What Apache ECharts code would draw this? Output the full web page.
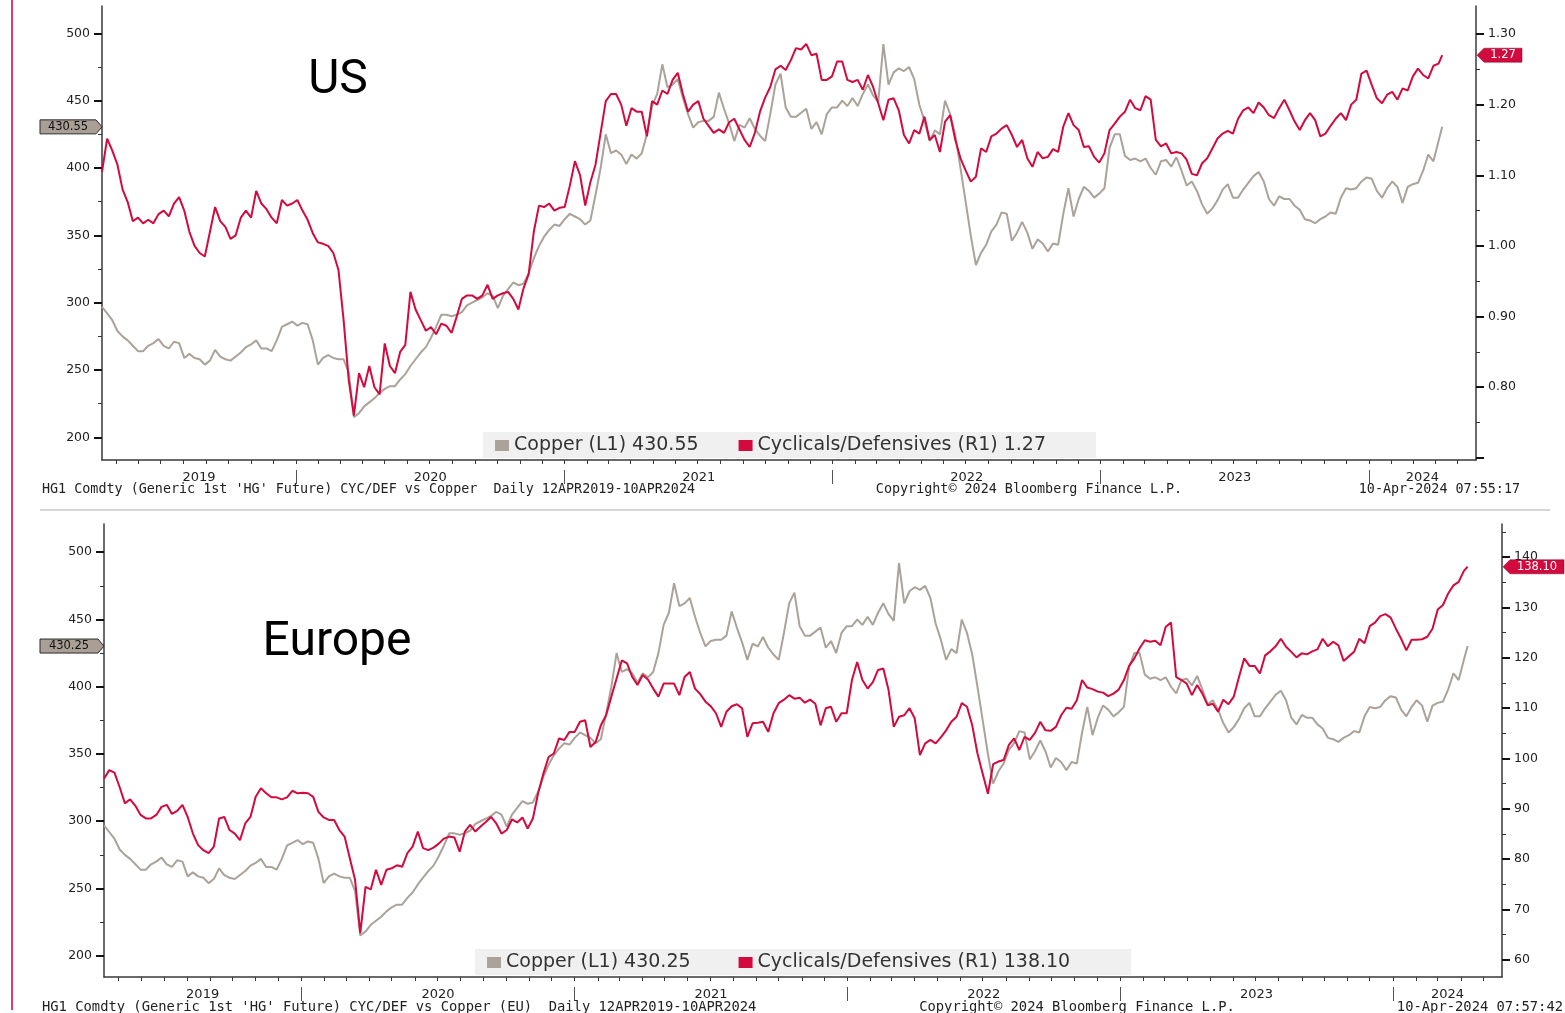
<!DOCTYPE html>
<html><head><meta charset="utf-8">
<script src="https://cdn.jsdelivr.net/npm/echarts@6.0.0/dist/echarts.min.js"></script>
<style>html,body{margin:0;padding:0;background:#fff}#main{width:1565px;height:1013px}</style>
</head><body><div id="main"></div>
<script>
// ---------- data (weekly Fridays from 12-Apr-2019, plus last print 10-Apr-2024) ----------
const START_DATE = Date.UTC(2019, 3, 12);
const WEEK_MS = 7 * 86400000;
const LAST_DATE = Date.UTC(2024, 3, 10);
const X_MIN = Date.UTC(2019, 3, 12);
const X_MAX = Date.UTC(2024, 4, 26);
const yearBoundaries = [Date.UTC(2020,0,1), Date.UTC(2021,0,1), Date.UTC(2022,0,1), Date.UTC(2023,0,1), Date.UTC(2024,0,1)];

const copperWeekly = [
  297,292,287,279,275,272,268,264,264,268,
  270,273,268,266,271,270,259,262,259,258,
  254,257,265,260,258,257,260,263,267,269,
  272,266,266,264,272,282,284,286,283,285,
  284,272,254,259,261,259,258,258,248,215,
  218,223,226,229,233,236,238,238,243,247,
  253,258,263,267,274,282,291,291,290,291,
  293,298,300,302,304,307,305,296,305,310,
  315,313,314,322,333,342,349,354,358,357,
  362,366,364,362,358,361,380,400,425,411,
  413,410,403,410,407,411,425,446,455,477,
  460,462,466,452,440,430,434,435,435,438,
  456,444,433,420,432,430,437,429,424,420,
  440,462,470,445,438,438,441,444,429,434,
  425,440,445,445,450,446,452,446,455,462,
  454,449,492,462,471,474,472,475,466,447,
  435,420,428,425,450,440,424,400,375,350,
  328,337,343,353,358,367,366,346,352,360,
  352,340,347,344,338,344,343,366,385,364,
  377,386,383,378,381,385,415,425,425,409,
  406,407,405,407,400,395,405,406,401,408,
  398,387,390,383,373,366,370,376,384,388,
  378,378,384,389,394,397,390,377,372,379,
  377,377,372,369,362,361,359,362,364,367,
  366,378,385,384,385,390,393,392,383,378,
  385,390,386,374,386,388,389,398,410,405,
  420
];
const copperLastUS = 430.55;
const copperLastEU = 430.25;

const ratioUSWeekly = [
  1.105,1.152,1.135,1.115,1.08,1.062,1.035,1.04,1.032,1.037,
  1.032,1.045,1.05,1.042,1.06,1.069,1.05,1.02,1.0,0.99,
  0.985,1.02,1.055,1.035,1.027,1.01,1.015,1.04,1.05,1.04,
  1.078,1.06,1.052,1.04,1.032,1.065,1.057,1.06,1.065,1.05,
  1.037,1.018,1.005,1.003,1.0,0.99,0.966,0.895,0.81,0.76,
  0.82,0.80,0.83,0.80,0.79,0.862,0.83,0.82,0.85,0.86,
  0.935,0.91,0.895,0.88,0.885,0.875,0.89,0.887,0.877,0.9,
  0.925,0.93,0.93,0.925,0.93,0.945,0.925,0.93,0.933,0.935,
  0.925,0.91,0.94,0.96,1.02,1.057,1.055,1.06,1.05,1.054,
  1.055,1.085,1.12,1.1,1.057,1.09,1.115,1.16,1.205,1.215,
  1.215,1.2,1.17,1.195,1.19,1.19,1.155,1.205,1.2,1.22,
  1.215,1.235,1.245,1.215,1.19,1.2,1.205,1.18,1.17,1.16,
  1.165,1.16,1.175,1.18,1.165,1.15,1.14,1.16,1.19,1.21,
  1.225,1.25,1.255,1.249,1.263,1.28,1.278,1.286,1.27,1.272,
  1.235,1.235,1.24,1.261,1.261,1.235,1.232,1.235,1.221,1.242,
  1.225,1.202,1.178,1.207,1.209,1.192,1.157,1.145,1.164,1.159,
  1.183,1.15,1.157,1.133,1.176,1.185,1.15,1.124,1.107,1.091,
  1.098,1.138,1.133,1.155,1.159,1.166,1.171,1.157,1.14,1.15,
  1.124,1.112,1.133,1.124,1.126,1.137,1.133,1.169,1.188,1.171,
  1.164,1.14,1.141,1.126,1.118,1.131,1.164,1.173,1.183,1.19,
  1.207,1.195,1.192,1.212,1.207,1.15,1.141,1.145,1.131,1.133,
  1.131,1.122,1.102,1.1,1.117,1.124,1.138,1.152,1.159,1.163,
  1.159,1.18,1.192,1.196,1.188,1.203,1.196,1.185,1.181,1.195,
  1.207,1.192,1.176,1.164,1.178,1.188,1.178,1.155,1.159,1.17,
  1.18,1.188,1.178,1.2,1.207,1.244,1.248,1.228,1.209,1.202,
  1.214,1.218,1.207,1.223,1.22,1.24,1.251,1.242,1.237,1.255,
  1.258
];
const ratioUSLast = 1.27;

const ratioEUWeekly = [
  96.0,97.7,97.2,94.3,91.1,91.9,90.6,88.8,88.1,88.1,
  88.8,90.4,90.8,89.0,89.6,90.8,88.4,85.1,82.8,81.8,
  81.2,82.5,88.1,88.4,85.8,85.1,83.8,87.1,88.4,92.4,
  94.1,93.1,92.3,92.3,91.9,92.3,93.6,93.1,93.2,93.1,
  92.4,89.4,88.3,87.8,87.8,85.8,84.5,80.2,75.9,65.3,
  74.5,74.0,77.9,74.9,77.9,78.2,78.8,78.5,81.2,82.5,
  85.5,82.2,81.8,82.3,83.1,84.1,84.5,84.3,81.5,85.5,
  86.8,85.5,86.5,87.4,88.4,87.1,85.1,85.8,87.9,87.3,
  88.3,86.1,88.1,93.1,97.0,100.3,101.0,104.0,103.7,105.3,
  105.3,107.3,107.6,102.3,103.3,106.6,108.6,112.3,115.9,119.5,
  118.9,116.2,114.6,116.6,115.7,113.9,112.3,114.9,114.9,114.9,
  112.6,116.2,117.2,113.9,112.8,111.3,110.4,109.0,106.3,109.3,
  110.4,110.8,110.0,104.3,107.0,107.1,107.3,105.3,109.0,111.0,
  111.7,112.6,111.9,112.1,111.1,111.7,110.9,106.6,110.0,110.3,
  107.3,109.0,109.0,115.6,119.2,115.6,113.9,115.2,117.6,117.9,
  113.6,106.3,108.3,108.6,110.0,108.0,100.7,103.0,103.7,103.0,
  104.2,105.6,107.3,108.3,111.0,110.3,106.6,101.0,97.0,93.0,
  98.9,99.4,99.7,102.7,104.0,101.7,104.3,103.7,105.1,107.3,
  105.6,105.5,106.3,108.6,110.1,109.9,111.6,115.6,114.1,113.8,
  113.3,113.1,112.4,112.9,113.7,115.6,118.4,119.9,121.9,123.5,
  123.2,123.4,122.5,126.2,127.0,116.2,115.6,114.9,112.6,114.6,
  112.9,110.6,110.9,109.3,111.7,110.8,112.3,116.2,119.9,118.4,
  118.4,116.9,120.5,121.3,122.3,123.8,122.2,121.2,120.1,120.9,
  120.7,121.3,121.7,123.8,122.3,123.2,122.5,119.4,120.3,121.2,
  123.8,122.9,126.3,127.0,128.3,128.7,128.0,125.8,123.8,121.5,
  123.6,123.6,123.7,124.2,125.8,129.6,130.5,132.8,134.4,135.1,
  137.3
];
const ratioEULast = 138.10;

// tick / label values
const copperLabels = [200, 250, 300, 350, 400, 450, 500];
const copperMinor = [225, 275, 325, 375, 425, 475];
const usRatioLabels = [0.8, 0.9, 1.0, 1.1, 1.2, 1.3];
const usRatioTicks = [0.7, 0.8, 0.9, 1.0, 1.1, 1.2, 1.3];
const usRatioMinor = [0.75, 0.85, 0.95, 1.05, 1.15, 1.25];
const euRatioLabels = [60, 70, 80, 90, 100, 110, 120, 130, 140];
const euRatioMinor = [65, 75, 85, 95, 105, 115, 125, 135, 145];

const GRAY = '#aba299';
const RED = '#d20a3e';
const FONT = 'DejaVu Sans';

// ---------- helpers ----------
function withDates(weekly, last) {
  const pts = weekly.map((v, i) => [START_DATE + i * WEEK_MS, v]);
  pts.push([LAST_DATE, last]);
  return pts;
}
const monthTicks = [];
for (let y = 2019; y <= 2024; y++) {
  for (let m = 0; m < 12; m++) {
    const t = Date.UTC(y, m, 1);
    if (t > X_MIN && t < X_MAX) monthTicks.push(t);
  }
}
const bounds = [X_MIN].concat(yearBoundaries, [X_MAX]);
const yearLabelPos = bounds.slice(0, -1).map((b, i) => (b + bounds[i + 1]) / 2);

function xMain(gridIndex) {
  return {
    type: 'value', gridIndex, min: X_MIN, max: X_MAX, position: 'bottom', scale: true,
    axisLine: { show: true, onZero: false, lineStyle: { color: '#3a3a3a', width: 1.5 } },
    axisTick: { show: true, customValues: monthTicks, length: 4, lineStyle: { color: '#3a3a3a' } },
    axisLabel: { show: true, customValues: yearLabelPos, margin: 11,
      formatter: v => String(new Date(v).getUTCFullYear()),
      fontFamily: FONT, fontSize: 13, color: '#222' },
    splitLine: { show: false }
  };
}
function xSep(gridIndex) {
  return {
    type: 'value', gridIndex, min: X_MIN, max: X_MAX, position: 'bottom', offset: 10, scale: true,
    axisLine: { show: false },
    axisTick: { show: true, customValues: yearBoundaries, length: 14, lineStyle: { color: '#555', width: 1 } },
    axisLabel: { show: false }, splitLine: { show: false }
  };
}
function yMain(gridIndex, position, min, max, labels, ticks, fmt) {
  return {
    type: 'value', gridIndex, position, min, max, scale: true,
    axisLine: { show: true, onZero: false, lineStyle: { color: '#3a3a3a', width: 1.5 } },
    axisTick: { show: true, customValues: ticks, length: 8, lineStyle: { color: '#111', width: 2 } },
    axisLabel: { show: true, customValues: labels, margin: 12, formatter: fmt,
      fontFamily: FONT, fontSize: 12.5, color: '#222' },
    splitLine: { show: false }
  };
}
function yMinor(gridIndex, position, min, max, ticks) {
  return {
    type: 'value', gridIndex, position, min, max, scale: true,
    axisLine: { show: false },
    axisTick: { show: true, customValues: ticks, length: 4, lineStyle: { color: '#333', width: 1 } },
    axisLabel: { show: false }, splitLine: { show: false }
  };
}

const nameCopperUS = 'Copper (L1) ' + copperLastUS.toFixed(2);
const nameRatioUS = 'Cyclicals/Defensives (R1) ' + ratioUSLast.toFixed(2);
const nameCopperEU = 'Copper (L1) ' + copperLastEU.toFixed(2);
const nameRatioEU = 'Cyclicals/Defensives (R1) ' + ratioEULast.toFixed(2);

function lineSeries(name, xi, yi, data, color, z) {
  return { name, type: 'line', xAxisIndex: xi, yAxisIndex: yi, data,
    showSymbol: false, symbol: 'none', z,
    lineStyle: { width: 2, color }, itemStyle: { color } };
}

const legendText = { fontFamily: FONT, fontSize: 19, color: '#333' };

const option = {
  animation: false,
  backgroundColor: '#fff',
  grid: [
    { left: 102, top: 6, width: 1374, height: 454 },
    { left: 104, top: 524, width: 1398, height: 453 }
  ],
  xAxis: [xMain(0), xMain(1), xSep(0), xSep(1)],
  yAxis: [
    yMain(0, 'left', 183.2, 520.3, copperLabels, copperLabels, v => String(v)),
    yMain(0, 'right', 0.697, 1.3396, usRatioLabels, usRatioTicks, v => v.toFixed(2)),
    yMinor(0, 'left', 183.2, 520.3, copperMinor),
    yMinor(0, 'right', 0.697, 1.3396, usRatioMinor),
    yMain(1, 'left', 184.2, 521, copperLabels, copperLabels, v => String(v)),
    yMain(1, 'right', 56.6, 146.6, euRatioLabels, euRatioLabels, v => String(v)),
    yMinor(1, 'left', 184.2, 521, copperMinor),
    yMinor(1, 'right', 56.6, 146.6, euRatioMinor)
  ],
  legend: [
    { left: 483, top: 432, data: [nameCopperUS, nameRatioUS], icon: 'rect',
      itemWidth: 14, itemHeight: 11, itemGap: 40, padding: [4, 50, 3, 12],
      backgroundColor: '#f0f0f0', textStyle: legendText, selectedMode: false },
    { left: 475, top: 949, data: [nameCopperEU, nameRatioEU], icon: 'rect',
      itemWidth: 14, itemHeight: 11, itemGap: 48, padding: [4, 61, 3, 12],
      backgroundColor: '#f0f0f0', textStyle: legendText, selectedMode: false }
  ],
  series: [
    lineSeries(nameCopperUS, 0, 0, withDates(copperWeekly, copperLastUS), GRAY, 2),
    lineSeries(nameRatioUS, 0, 1, withDates(ratioUSWeekly, ratioUSLast), RED, 3),
    lineSeries(nameCopperEU, 1, 4, withDates(copperWeekly, copperLastEU), GRAY, 2),
    lineSeries(nameRatioEU, 1, 5, withDates(ratioEUWeekly, ratioEULast), RED, 3)
  ]
};

const chart = echarts.init(document.getElementById('main'), null, { renderer: 'canvas' });
chart.setOption(option);

// ---------- annotations (positions of value tags come from the axes) ----------
function leftTag(axisX, y, text) {
  return [
    { type: 'polygon', z: 100, shape: { points: [[40, y - 7], [axisX - 6, y - 7], [axisX, y], [axisX - 6, y + 7], [40, y + 7]] },
      style: { fill: '#a99f95', stroke: '#2a2a2a', lineWidth: 1 } },
    { type: 'text', z: 101, style: { text, x: (40 + axisX - 6) / 2, y, align: 'center', verticalAlign: 'middle',
      font: '11.5px "DejaVu Sans"', fill: '#111' } }
  ];
}
function rightTag(axisX, y, text, w) {
  return [
    { type: 'polygon', z: 100, shape: { points: [[axisX + 1, y], [axisX + 8, y - 7], [axisX + w, y - 7], [axisX + w, y + 7], [axisX + 8, y + 7]] },
      style: { fill: RED, stroke: '#7a0020', lineWidth: 0.5 } },
    { type: 'text', z: 101, style: { text, x: axisX + 8 + (w - 8) / 2, y, align: 'center', verticalAlign: 'middle',
      font: '11.5px "DejaVu Sans"', fill: '#fff' } }
  ];
}
function txt(text, x, y, align, font, fill) {
  return { type: 'text', z: 50, style: { text, x, y, align, verticalAlign: 'middle', font, fill: fill || '#222' } };
}

const xL0 = chart.convertToPixel({ xAxisIndex: 0 }, X_MIN);
const xR0 = chart.convertToPixel({ xAxisIndex: 0 }, X_MAX);
const xL1 = chart.convertToPixel({ xAxisIndex: 1 }, X_MIN);
const xR1 = chart.convertToPixel({ xAxisIndex: 1 }, X_MAX);
const yCopUS = chart.convertToPixel({ yAxisIndex: 0 }, copperLastUS);
const yRatUS = chart.convertToPixel({ yAxisIndex: 1 }, ratioUSLast);
const yCopEU = chart.convertToPixel({ yAxisIndex: 4 }, copperLastEU);
const yRatEU = chart.convertToPixel({ yAxisIndex: 5 }, ratioEULast);

const footTop = '13.4px "DejaVu Sans Mono"';
const footBot = '13.8px "DejaVu Sans Mono"';
const graphics = [
  { type: 'line', z: 1, shape: { x1: 12, y1: 0, x2: 12, y2: 1010 }, style: { stroke: '#de3f6c', lineWidth: 2 } },
  { type: 'line', z: 1, shape: { x1: 40, y1: 510, x2: 1550, y2: 510 }, style: { stroke: '#c8c8c8', lineWidth: 1.5 } },
  txt('US', 338, 81, 'center', '48px Roboto', '#000'),
  txt('Europe', 337, 643, 'center', '48px Roboto', '#000'),
  txt("HG1 Comdty (Generic 1st 'HG' Future) CYC/DEF vs Copper  Daily 12APR2019-10APR2024", 42, 490, 'left', footTop),
  txt('Copyright\u00a9 2024 Bloomberg Finance L.P.', 1029, 490, 'center', footTop),
  txt('10-Apr-2024 07:55:17', 1520, 490, 'right', footTop),
  txt("HG1 Comdty (Generic 1st 'HG' Future) CYC/DEF vs Copper (EU)  Daily 12APR2019-10APR2024", 42, 1007, 'left', footBot),
  txt('Copyright\u00a9 2024 Bloomberg Finance L.P.', 1077, 1007, 'center', footBot),
  txt('10-Apr-2024 07:57:42', 1563, 1007, 'right', footBot)
].concat(
  leftTag(xL0, yCopUS, copperLastUS.toFixed(2)),
  rightTag(xR0, yRatUS, ratioUSLast.toFixed(2), 46),
  leftTag(xL1, yCopEU, copperLastEU.toFixed(2)),
  rightTag(xR1, yRatEU, ratioEULast.toFixed(2), 62)
);
chart.setOption({ graphic: graphics });
</script></body></html>
